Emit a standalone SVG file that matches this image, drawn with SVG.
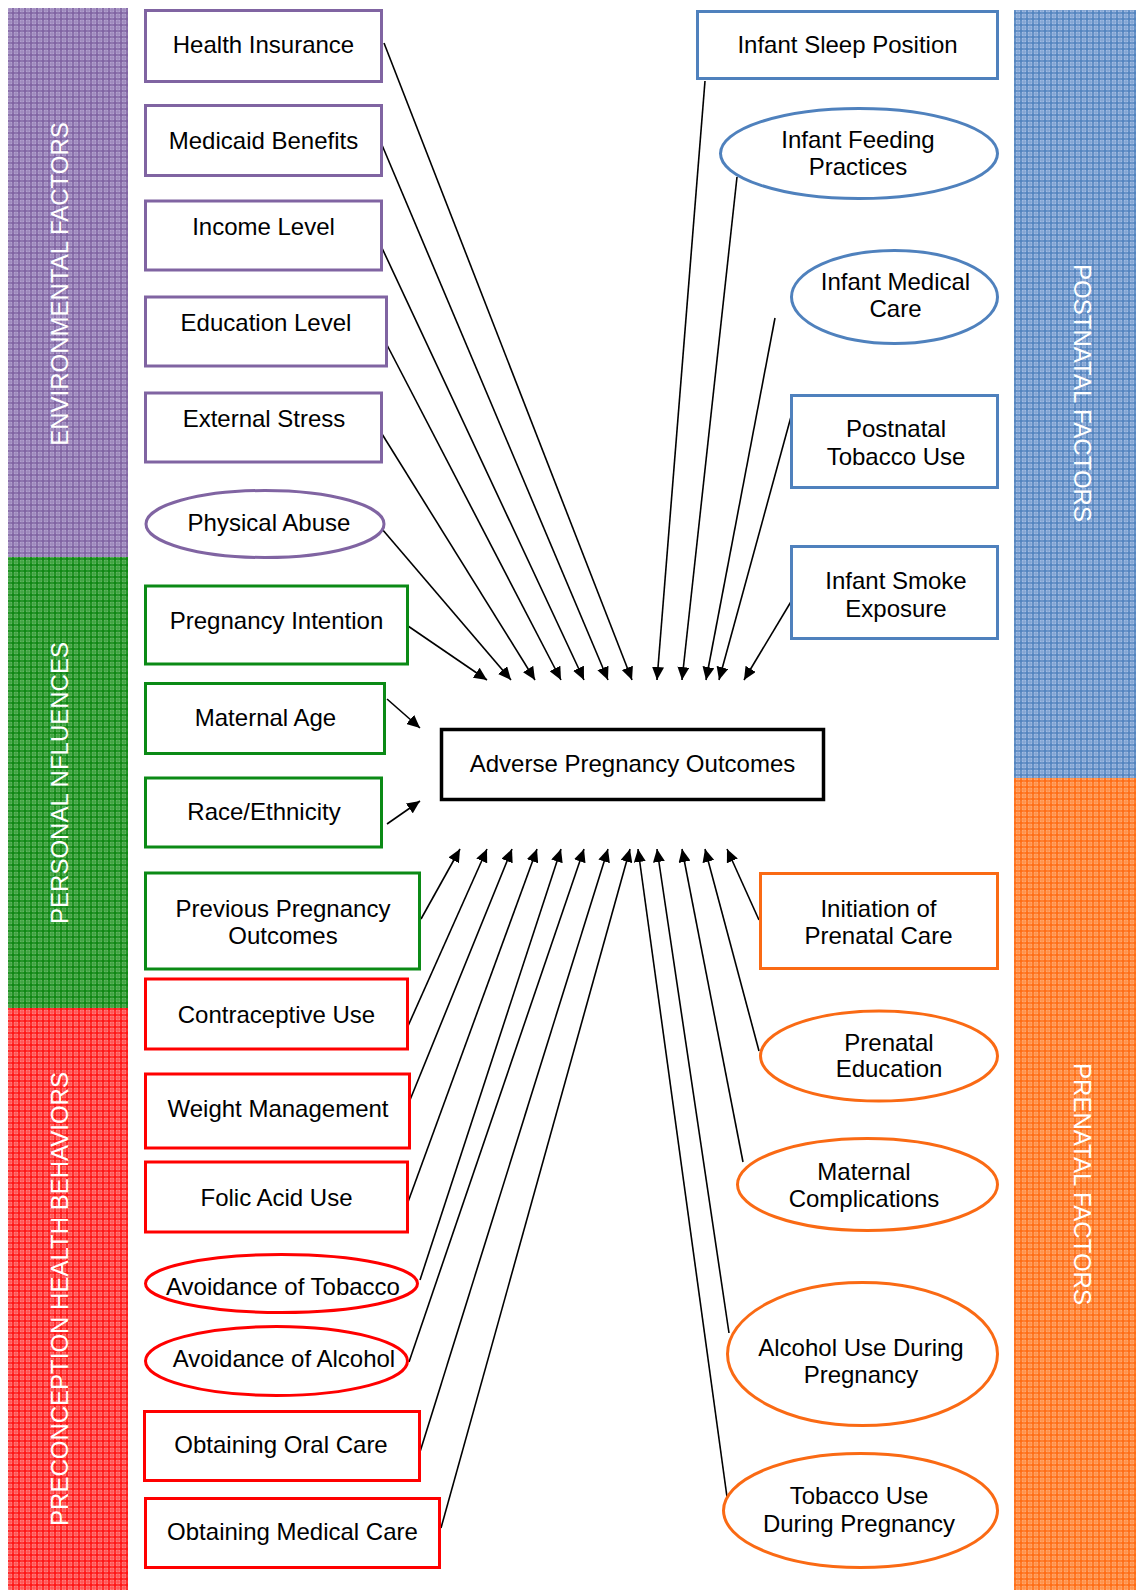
<svg xmlns="http://www.w3.org/2000/svg" width="1139" height="1590" viewBox="0 0 1139 1590">
<style>
text{font-family:"Liberation Sans",Arial,Helvetica,sans-serif;font-size:24px;fill:#000;text-anchor:middle}
.bar text{fill:#fff}
.n{fill:#fff;stroke-width:3}
.pu{stroke:#8064A2}.gr{stroke:#0B8A16}.rd{stroke:#FF0000}.bl{stroke:#4F81BD}.or{stroke:#FA6A14}
.c{fill:#fff;stroke:#000;stroke-width:3.5}
#connectors line{stroke:#000;stroke-width:1.6;marker-end:url(#ah)}
</style>
<defs>
<marker id="ah" markerUnits="userSpaceOnUse" markerWidth="13" markerHeight="12" viewBox="0 0 13 12" refX="13" refY="6" orient="auto">
<path d="M0,0L13,6L0,12z" fill="#000"/>
</marker>
<pattern id="pPu" width="12" height="12" patternUnits="userSpaceOnUse">
<rect width="12" height="12" fill="#B3A2CF"/>
<path d="M0,1H12M0,7H12M1,0V12M7,0V12" stroke="#7D60A0" stroke-width="1.6"/>
<path d="M0,4H12M4,0V12M0,10H12M10,0V12" stroke="#937EB4" stroke-width="0.8"/>
</pattern>
<pattern id="pGr" width="12" height="12" patternUnits="userSpaceOnUse">
<rect width="12" height="12" fill="#62B562"/>
<path d="M0,1H12M0,7H12M1,0V12M7,0V12" stroke="#0A850F" stroke-width="1.6"/>
<path d="M0,4H12M4,0V12M0,10H12M10,0V12" stroke="#2F9A32" stroke-width="0.8"/>
</pattern>
<pattern id="pRd" width="12" height="12" patternUnits="userSpaceOnUse">
<rect width="12" height="12" fill="#FF8080"/>
<path d="M0,1H12M0,7H12M1,0V12M7,0V12" stroke="#FF1010" stroke-width="1.6"/>
<path d="M0,4H12M4,0V12M0,10H12M10,0V12" stroke="#FF4040" stroke-width="0.8"/>
</pattern>
<pattern id="pBl" width="12" height="12" patternUnits="userSpaceOnUse">
<rect width="12" height="12" fill="#A2BCE3"/>
<path d="M0,1H12M0,7H12M1,0V12M7,0V12" stroke="#4F81BD" stroke-width="1.6"/>
<path d="M0,4H12M4,0V12M0,10H12M10,0V12" stroke="#7398CC" stroke-width="0.8"/>
</pattern>
<pattern id="pOr" width="12" height="12" patternUnits="userSpaceOnUse">
<rect width="12" height="12" fill="#FFA86E"/>
<path d="M0,1H12M0,7H12M1,0V12M7,0V12" stroke="#FF6A10" stroke-width="1.6"/>
<path d="M0,4H12M4,0V12M0,10H12M10,0V12" stroke="#FF8838" stroke-width="0.8"/>
</pattern>
</defs>
<rect width="1139" height="1590" fill="#fff"/>

<g class="bar" id="bar-environmental">
<rect x="8" y="8" width="120" height="549" fill="url(#pPu)"/>
<text transform="translate(59,284) rotate(-90)" y="8.6">ENVIRONMENTAL FACTORS</text>
</g>
<g class="bar" id="bar-personal">
<rect x="8" y="557" width="120" height="451" fill="url(#pGr)"/>
<text transform="translate(59,783) rotate(-90)" y="8.6">PERSONAL NFLUENCES</text>
</g>
<g class="bar" id="bar-preconception">
<rect x="8" y="1008" width="120" height="582" fill="url(#pRd)"/>
<text transform="translate(59,1299) rotate(-90)" y="8.6">PRECONCEPTION HEALTH BEHAVIORS</text>
</g>
<g class="bar" id="bar-postnatal">
<rect x="1014" y="10" width="122" height="768" fill="url(#pBl)"/>
<text transform="translate(1083,393) rotate(90)" y="8.6">POSTNATAL FACTORS</text>
</g>
<g class="bar" id="bar-prenatal">
<rect x="1014" y="778" width="122" height="812" fill="url(#pOr)"/>
<text transform="translate(1083,1184) rotate(90)" y="8.6">PRENATAL FACTORS</text>
</g>

<g id="connectors">
<line x1="408" y1="626" x2="487" y2="680"/>
<line x1="382" y1="529" x2="511" y2="680"/>
<line x1="382" y1="434" x2="535" y2="680"/>
<line x1="387" y1="345" x2="561" y2="680"/>
<line x1="382" y1="248" x2="584" y2="680"/>
<line x1="382" y1="145" x2="608" y2="680"/>
<line x1="384" y1="43" x2="632" y2="680"/>
<line x1="705" y1="81" x2="657" y2="680"/>
<line x1="737" y1="177" x2="682" y2="680"/>
<line x1="775" y1="318" x2="706" y2="680"/>
<line x1="792" y1="413" x2="719" y2="680"/>
<line x1="792" y1="600" x2="744" y2="680"/>
<line x1="387" y1="699" x2="420" y2="728"/>
<line x1="387" y1="824" x2="420" y2="801"/>
<line x1="421" y1="919" x2="460" y2="849"/>
<line x1="408" y1="1026" x2="487" y2="849"/>
<line x1="410" y1="1100" x2="512" y2="849"/>
<line x1="408" y1="1202" x2="537" y2="849"/>
<line x1="420" y1="1280" x2="561" y2="849"/>
<line x1="409" y1="1362" x2="584" y2="849"/>
<line x1="420" y1="1452" x2="608" y2="849"/>
<line x1="441" y1="1528" x2="630" y2="849"/>
<line x1="727" y1="1497" x2="638" y2="849"/>
<line x1="729" y1="1333" x2="657" y2="849"/>
<line x1="743" y1="1162" x2="682" y2="849"/>
<line x1="759" y1="1051" x2="705" y2="849"/>
<line x1="759" y1="920" x2="727" y2="849"/>
</g>

<g id="n-health-insurance"><rect class="n pu" x="145.5" y="10.5" width="236" height="71"/><text x="263.5" y="53">Health Insurance</text></g>
<g id="n-medicaid"><rect class="n pu" x="145.5" y="105.5" width="236" height="70"/><text x="263.5" y="148.5">Medicaid Benefits</text></g>
<g id="n-income"><rect class="n pu" x="145.5" y="201" width="236" height="69"/><text x="263.5" y="235">Income Level</text></g>
<g id="n-education"><rect class="n pu" x="145.5" y="297" width="241" height="69"/><text x="266" y="331">Education Level</text></g>
<g id="n-stress"><rect class="n pu" x="145.5" y="393" width="236" height="69"/><text x="264" y="426.5">External Stress</text></g>
<g id="n-abuse"><ellipse class="n pu" cx="265" cy="524" rx="119" ry="33.5"/><text x="269" y="531">Physical Abuse</text></g>

<g id="n-intention"><rect class="n gr" x="145.5" y="586" width="262" height="78"/><text x="276.5" y="628.5">Pregnancy Intention</text></g>
<g id="n-age"><rect class="n gr" x="145.5" y="683.5" width="239" height="70"/><text x="265.5" y="726">Maternal Age</text></g>
<g id="n-race"><rect class="n gr" x="145.5" y="778" width="236" height="69"/><text x="264" y="820">Race/Ethnicity</text></g>
<g id="n-previous"><rect class="n gr" x="145.5" y="873" width="274" height="96"/><text x="283" y="916.5">Previous Pregnancy</text><text x="283" y="943.5">Outcomes</text></g>

<g id="n-contraceptive"><rect class="n rd" x="145.5" y="979" width="262" height="70"/><text x="276.5" y="1023">Contraceptive Use</text></g>
<g id="n-weight"><rect class="n rd" x="145.5" y="1074" width="264" height="74"/><text x="278" y="1117">Weight Management</text></g>
<g id="n-folic"><rect class="n rd" x="145.5" y="1162" width="262" height="70"/><text x="276.5" y="1205.5">Folic Acid Use</text></g>
<g id="n-avoid-tobacco"><ellipse class="n rd" cx="281.5" cy="1283.5" rx="136" ry="29"/><text x="283" y="1295">Avoidance of Tobacco</text></g>
<g id="n-avoid-alcohol"><ellipse class="n rd" cx="276.5" cy="1361" rx="131" ry="34.5"/><text x="284" y="1367">Avoidance of Alcohol</text></g>
<g id="n-oral"><rect class="n rd" x="144.5" y="1411.5" width="275" height="69"/><text x="281" y="1453">Obtaining Oral Care</text></g>
<g id="n-medical"><rect class="n rd" x="145.5" y="1498.5" width="294" height="69"/><text x="292.5" y="1540">Obtaining Medical Care</text></g>

<g id="n-sleep"><rect class="n bl" x="697.5" y="11.5" width="300" height="67"/><text x="847.5" y="53">Infant Sleep Position</text></g>
<g id="n-feeding"><ellipse class="n bl" cx="859" cy="153.5" rx="138.5" ry="45"/><text x="858" y="148">Infant Feeding</text><text x="858" y="175">Practices</text></g>
<g id="n-infant-medical"><ellipse class="n bl" cx="894.5" cy="297" rx="103" ry="46.5"/><text x="895.5" y="289.5">Infant Medical</text><text x="895.5" y="316.5">Care</text></g>
<g id="n-postnatal-tobacco"><rect class="n bl" x="791.5" y="395.5" width="206" height="92"/><text x="896" y="437">Postnatal</text><text x="896" y="465">Tobacco Use</text></g>
<g id="n-smoke"><rect class="n bl" x="791.5" y="546.5" width="206" height="92"/><text x="896" y="589">Infant Smoke</text><text x="896" y="617">Exposure</text></g>

<g id="n-initiation"><rect class="n or" x="760.5" y="873.5" width="237" height="95"/><text x="878.5" y="916.5">Initiation of</text><text x="878.5" y="943.5">Prenatal Care</text></g>
<g id="n-prenatal-ed"><ellipse class="n or" cx="879" cy="1056" rx="118.5" ry="45"/><text x="889" y="1050.5">Prenatal</text><text x="889" y="1076.5">Education</text></g>
<g id="n-complications"><ellipse class="n or" cx="867.5" cy="1184.5" rx="130" ry="46"/><text x="864" y="1180">Maternal</text><text x="864" y="1206.5">Complications</text></g>
<g id="n-alcohol-use"><ellipse class="n or" cx="862.5" cy="1354" rx="135" ry="71.5"/><text x="861" y="1356">Alcohol Use During</text><text x="861" y="1383">Pregnancy</text></g>
<g id="n-tobacco-use"><ellipse class="n or" cx="860.5" cy="1510.5" rx="137" ry="57"/><text x="859" y="1504">Tobacco Use</text><text x="859" y="1531.5">During Pregnancy</text></g>

<g id="n-outcomes"><rect class="c" x="441.5" y="729.5" width="382" height="70"/><text x="632.5" y="771.5">Adverse Pregnancy Outcomes</text></g>
</svg>
